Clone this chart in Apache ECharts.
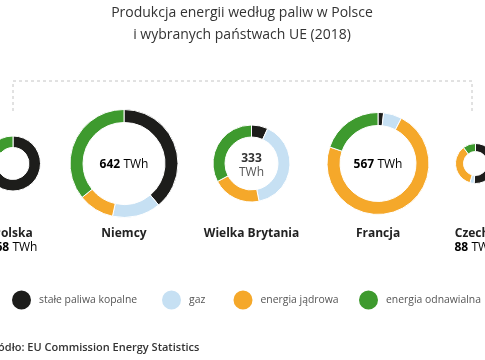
<!DOCTYPE html>
<html>
<head>
<meta charset="utf-8">
<script src="https://cdn.jsdelivr.net/npm/echarts@6/dist/echarts.min.js"></script>
<style>
html,body{margin:0;padding:0;background:#fff;}
#chart{width:485px;height:360px;}
</style>
</head>
<body>
<div id="chart"></div>
<script>
// ---- data ----
const countries = ['Polska', 'Niemcy', 'Wielka Brytania', 'Francja', 'Czechy'];
const totals = [168, 642, 333, 567, 88];
const fuels = ['stałe paliwa kopalne', 'gaz', 'energia jądrowa', 'energia odnawialna'];
const solidFossil = [131, 250, 23, 10, 45];
const gas = [14, 93, 133, 33, 3];
const nuclear = [0, 69, 68, 412, 31];
const renewable = [23, 230, 109, 112, 9];
const titleLines = ['Produkcja energii według paliw w Polsce', 'i wybranych państwach UE (2018)'];
const sourceText = 'Źródło: EU Commission Energy Statistics';

// ---- layout / style ----
const colors = ['#1d1d1b', '#c6e0f3', '#f5a82a', '#3e9a2e'];
const cx = [13, 124, 251.5, 378, 475.5];
const cy = 163.5;
const innerR = [16, 41, 26.5, 38, 12];
const outerR = [27.5, 54, 38.5, 51, 20];
const centerLabel = ['none', 'inline', 'twoLines', 'inline', 'none'];
const FONT = '"Open Sans", "Noto Sans", sans-serif';

const chart = echarts.init(document.getElementById('chart'), null, {renderer: 'canvas'});

const series = countries.map((c, i) => ({
  type: 'pie',
  name: c,
  center: [cx[i], cy],
  radius: [innerR[i], outerR[i]],
  startAngle: 90,
  clockwise: true,
  silent: true,
  label: {show: false},
  labelLine: {show: false},
  itemStyle: {borderColor: '#fff', borderWidth: 1},
  data: [
    {name: fuels[0], value: solidFossil[i], itemStyle: {color: colors[0]}},
    {name: fuels[1], value: gas[i], itemStyle: {color: colors[1]}},
    {name: fuels[2], value: nuclear[i], itemStyle: {color: colors[2]}},
    {name: fuels[3], value: renewable[i], itemStyle: {color: colors[3]}}
  ]
}));

const graphics = [];
// title
titleLines.forEach((t, k) => {
  graphics.push({type: 'text', x: 242, y: 13 + k * 22,
    style: {text: t, font: '14px ' + FONT, fill: '#333', textAlign: 'center', textVerticalAlign: 'middle'}});
});
// dashed bracket
graphics.push({type: 'polyline', shape: {points: [[13, 111], [13, 81], [472, 81], [472, 111]]},
  style: {stroke: '#c4c4c4', lineWidth: 1, lineDash: [3, 3], fill: null}});

const rich = {
  b: {fontWeight: 'bold', fontSize: 12, fontFamily: FONT, color: '#333'},
  n: {fontSize: 12, fontFamily: FONT, color: '#555'}
};

countries.forEach((c, i) => {
  // country name
  graphics.push({type: 'text', x: cx[i], y: 234,
    style: {text: c, font: 'bold 12px ' + FONT, fill: '#222', textAlign: 'center', textVerticalAlign: 'middle'}});
  if (centerLabel[i] === 'inline') {
    graphics.push({type: 'text', x: cx[i], y: cy + 1,
      style: {text: '{b|' + totals[i] + '} {n|TWh}', rich: rich, textAlign: 'center', textVerticalAlign: 'middle'}});
  } else if (centerLabel[i] === 'twoLines') {
    graphics.push({type: 'text', x: cx[i], y: cy - 5,
      style: {text: String(totals[i]), font: 'bold 12px ' + FONT, fill: '#333', textAlign: 'center', textVerticalAlign: 'middle'}});
    graphics.push({type: 'text', x: cx[i], y: cy + 9,
      style: {text: 'TWh', font: '12px ' + FONT, fill: '#555', textAlign: 'center', textVerticalAlign: 'middle'}});
  } else {
    graphics.push({type: 'text', x: cx[i], y: 248,
      style: {text: '{b|' + totals[i] + '} {n|TWh}', rich: rich, textAlign: 'center', textVerticalAlign: 'middle'}});
  }
});

// source
graphics.push({type: 'text', x: -13, y: 348,
  style: {text: sourceText, font: '600 11px ' + FONT, fill: '#333', textAlign: 'left', textVerticalAlign: 'middle'}});

const legendLefts = [10, 160, 231.5, 357];
const legends = fuels.map((f, k) => ({
  data: [{name: f, icon: 'circle'}],
  left: legendLefts[k],
  top: 288.5,
  itemWidth: 21,
  itemHeight: 21,
  selectedMode: false,
  padding: 0,
  textStyle: {fontSize: 10.4, fontFamily: FONT, color: '#555', padding: [0, 0, 0, 2]}
}));

chart.setOption({
  animation: false,
  color: colors,
  legend: legends,
  series: series,
  graphic: graphics
});
</script>
</body>
</html>
